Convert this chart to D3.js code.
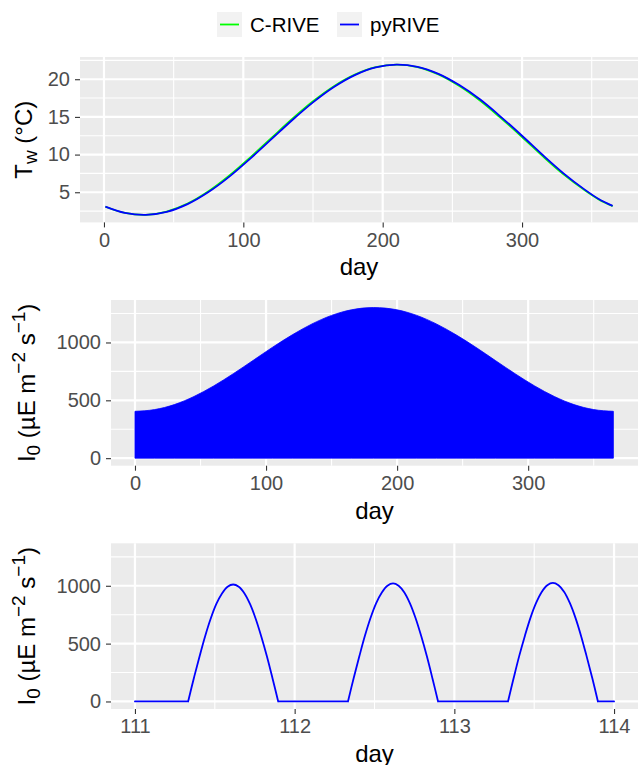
<!DOCTYPE html>
<html><head><meta charset="utf-8">
<script src="https://cdn.jsdelivr.net/npm/d3@7"></script>
<style>
body{margin:0;background:#fff}
text{font-family:"Liberation Sans",Arial,Helvetica,sans-serif}
</style>
</head><body>
<svg id="c" width="638" height="765"></svg>
<script>
// ---------- data ----------
const seriesNames = ["C-RIVE", "pyRIVE"];
const seriesColors = ["#00FF00", "#0000FF"];

// Panel 1: water temperature (°C) vs day
const tempDays  = [1,15,30,45,60,75,90,105,120,135,150,165,180,195,210,225,240,255,270,285,300,315,330,345,355,365];
const tempPy    = [3.10,2.27,2.00,2.40,3.43,5.03,7.08,9.47,12.01,14.56,16.93,18.97,20.55,21.57,21.94,21.65,20.72,19.22,17.30,14.98,12.50,9.92,7.48,5.35,4.11,3.20];
const tempC     = [3.08,2.26,2.00,2.44,3.50,5.13,7.22,9.63,12.18,14.72,17.07,19.08,20.62,21.60,21.94,21.61,20.64,19.10,17.14,14.81,12.33,9.76,7.34,5.25,4.05,3.16];
const tempXTicks = [0,100,200,300];
const tempYTicks = [5,10,15,20];

// Panel 2: daily maximum irradiance envelope (µE m-2 s-1) vs day
const irrDays = [0,15,30,45,60,75,90,105,120,135,150,165,182,200,215,230,245,260,275,290,305,320,335,350,365];
const irrMax  = [405,420,463,533,624,730,844,959,1066,1160,1234,1282,1302,1282,1234,1160,1066,959,844,730,624,533,463,420,405];
const irrXTicks = [0,100,200,300];
const irrYTicks = [0,500,1000];

// Panel 3: irradiance, days 111-114
const zoomDays = [111.000,
 111.333,111.368,111.404,111.439,111.474,111.509,111.545,111.580,111.615,111.650,111.686,111.721,111.756,111.791,111.827,111.862,111.897,
 112.334,112.369,112.405,112.440,112.475,112.510,112.546,112.581,112.616,112.651,112.687,112.722,112.757,112.792,112.828,112.863,112.898,
 113.336,113.371,113.406,113.442,113.477,113.512,113.547,113.582,113.617,113.652,113.688,113.723,113.758,113.793,113.828,113.864,113.899,
 114.000];
const zoomI = [0,
 0,197,387,562,715,841,934,992,1011,992,934,841,715,562,387,197,0,
 0,199,390,567,721,848,942,1000,1020,1000,942,848,721,567,390,199,0,
 0,200,392,569,725,852,947,1005,1025,1005,947,852,725,569,392,200,0,
 0];
const zoomXTicks = [111,112,113,114];
const zoomYTicks = [0,500,1000];

// ---------- drawing ----------
const svg = d3.select("#c");
svg.append("rect").attr("width",638).attr("height",765).attr("fill","#fff");

function drawPanel(o){
  const g = svg.append("g");
  const [xa,xb] = o.x.range(), [ya,yb] = o.y.range();
  g.append("rect").attr("x",xa).attr("y",yb).attr("width",xb-xa).attr("height",ya-yb).attr("fill","#EBEBEB");
  o.xMinor.forEach(v=>g.append("line").attr("x1",o.x(v)).attr("x2",o.x(v)).attr("y1",yb).attr("y2",ya).attr("stroke","#fff").attr("stroke-width",1.1));
  o.yMinor.forEach(v=>g.append("line").attr("y1",o.y(v)).attr("y2",o.y(v)).attr("x1",xa).attr("x2",xb).attr("stroke","#fff").attr("stroke-width",1.1));
  o.xTicks.forEach(v=>g.append("line").attr("x1",o.x(v)).attr("x2",o.x(v)).attr("y1",yb).attr("y2",ya).attr("stroke","#fff").attr("stroke-width",2.2));
  o.yTicks.forEach(v=>g.append("line").attr("y1",o.y(v)).attr("y2",o.y(v)).attr("x1",xa).attr("x2",xb).attr("stroke","#fff").attr("stroke-width",2.2));

  const axB = svg.append("g").attr("transform",`translate(0,${ya})`)
    .call(d3.axisBottom(o.x).tickValues(o.xTicks).tickSize(5).tickPadding(5).tickFormat(d3.format("d")));
  const axL = svg.append("g").attr("transform",`translate(${xa},0)`)
    .call(d3.axisLeft(o.y).tickValues(o.yTicks).tickSize(5).tickPadding(5).tickFormat(d3.format("d")));
  [axB,axL].forEach(a=>{
    a.select(".domain").remove();
    a.selectAll("line").attr("stroke","#333333").attr("stroke-width",1.1);
    a.selectAll("text").attr("fill","#4D4D4D").style("font-size","20px")
      .style("font-family",'"Liberation Sans",Arial,sans-serif');
  });
  svg.append("text").attr("x",(xa+xb)/2).attr("y",ya+53).attr("text-anchor","middle")
    .style("font-size","24px").attr("fill","#000").text("day");
  return g;
}

// Panel 1
const x1 = d3.scaleLinear().domain([-17.2,383.2]).range([80,638]);
const y1 = d3.scaleLinear().domain([1.0,22.95]).range([222.4,57]);
const g1 = drawPanel({x:x1,y:y1,xTicks:tempXTicks,yTicks:tempYTicks,xMinor:[50,150,250,350],yMinor:[2.5,7.5,12.5,17.5,22.5]});
const line1 = d3.line().x((d,i)=>x1(tempDays[i])).y(d=>y1(d)).curve(d3.curveCatmullRom.alpha(0.5));
g1.append("path").attr("d",line1(tempC)).attr("fill","none").attr("stroke",seriesColors[0]).attr("stroke-width",1.8);
g1.append("path").attr("d",line1(tempPy)).attr("fill","none").attr("stroke",seriesColors[1]).attr("stroke-width",1.8);

// Panel 2
const x2 = d3.scaleLinear().domain([-18.3,383.8]).range([111,638]);
const y2 = d3.scaleLinear().domain([-65.1,1367.1]).range([465.7,300]);
const g2 = drawPanel({x:x2,y:y2,xTicks:irrXTicks,yTicks:irrYTicks,xMinor:[50,150,250,350],yMinor:[250,750,1250]});
const area2 = d3.area().x((d,i)=>x2(irrDays[i])).y0(y2(0)).y1(d=>y2(d)).curve(d3.curveMonotoneX);
g2.append("path").attr("d",area2(irrMax)).attr("fill",seriesColors[1]).attr("stroke",seriesColors[1]).attr("stroke-width",0.8);

// Panel 3
const x3 = d3.scaleLinear().domain([110.85,114.15]).range([111,638]);
const y3 = d3.scaleLinear().domain([-65.1,1367.1]).range([709,543.3]);
const g3 = drawPanel({x:x3,y:y3,xTicks:zoomXTicks,yTicks:zoomYTicks,xMinor:[111.5,112.5,113.5],yMinor:[250,750,1250]});
// split series into flat (night) runs drawn straight and daylight humps drawn smooth
const pts3 = zoomDays.map((d,i)=>[d,zoomI[i]]);
const runs = [];
let cur = [pts3[0]], inHump = false;
for(let i=1;i<pts3.length;i++){
  const p = pts3[i], hump = p[1] > 0 || (inHump && p[1]===0 && cur[cur.length-1][1]>0);
  const nowHump = p[1] > 0;
  if(nowHump && !inHump){ runs.push({h:false,p:cur}); cur=[cur[cur.length-1],p]; inHump=true; }
  else if(!nowHump && inHump){ cur.push(p); runs.push({h:true,p:cur}); cur=[p]; inHump=false; }
  else cur.push(p);
}
runs.push({h:inHump,p:cur});
const lineFlat = d3.line().x(d=>x3(d[0])).y(d=>y3(d[1]));
const lineHump = d3.line().x(d=>x3(d[0])).y(d=>y3(d[1])).curve(d3.curveCatmullRom.alpha(0.5));
const dStr = runs.map(r=>(r.h?lineHump:lineFlat)(r.p)).join("");
g3.append("path").attr("d",dStr).attr("fill","none").attr("stroke",seriesColors[1]).attr("stroke-width",1.8).attr("stroke-linejoin","round").attr("stroke-linecap","round");

// Y axis titles
function yTitle(cx, cy, parts){
  const t = svg.append("text").attr("transform",`translate(${cx},${cy}) rotate(-90)`)
    .attr("text-anchor","middle").style("font-size","24px").attr("fill","#000");
  parts.forEach(p=>{
    const s = t.append("tspan").text(p.t);
    if(p.dy) s.attr("dy",p.dy);
    if(p.fs) s.style("font-size",p.fs);
  });
}
yTitle(32, 139.7, [{t:"T"},{t:"w",dy:"5",fs:"19px"},{t:" (°C)",dy:"-5"}]);
const iParts = [{t:"I"},{t:"0",dy:"5",fs:"19px"},{t:" (µE m",dy:"-5"},{t:"−2",dy:"-10",fs:"19px"},{t:" s",dy:"10"},{t:"−1",dy:"-10",fs:"19px"},{t:")",dy:"10"}];
yTitle(35, 382.9, iParts);
yTitle(35, 626.2, iParts);

// Legend
const leg = svg.append("g");
const legX = [217, 337];
seriesNames.forEach((n,i)=>{
  leg.append("rect").attr("x",legX[i]).attr("y",12).attr("width",25).attr("height",25).attr("fill","#F2F2F2");
  leg.append("line").attr("x1",legX[i]+3).attr("x2",legX[i]+22).attr("y1",24.5).attr("y2",24.5).attr("stroke",seriesColors[i]).attr("stroke-width",1.8);
  leg.append("text").attr("x",legX[i]+33).attr("y",32).style("font-size","20.5px").attr("fill","#000").text(n);
});
</script>
</body></html>
